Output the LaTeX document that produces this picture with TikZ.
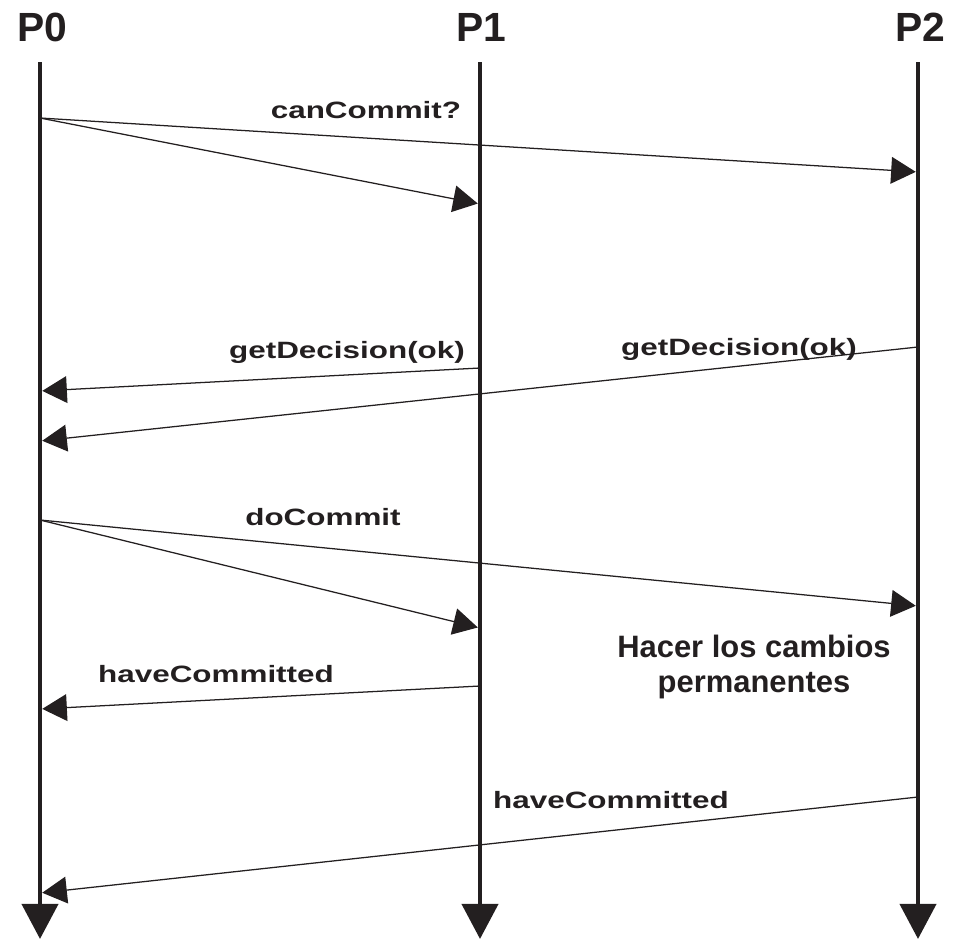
\documentclass[tikz,border=0pt]{standalone}
\usepackage{fontspec}
\setsansfont{Liberation Sans}
\newfontfamily\lblfont{Liberation Sans}[FakeStretch=1.33]
\usetikzlibrary{arrows.meta}
\definecolor{ink}{HTML}{231F20}

\begin{document}
\begin{tikzpicture}[
		x=0.025cm,y=-0.025cm,
		proc/.style={
			font=\sffamily\bfseries\fontsize{29}{34}\selectfont,
			text=ink,
			anchor=base,
			inner sep=0pt
		},
		lifeline/.style={
			-{Triangle[length=25pt,width=25.5pt]},
			draw=ink,
			line width=3.5pt
		},
		msg/.style={
			-{Triangle[length=17.5pt,width=19pt]},
			draw=ink,
			line width=0.9pt,
			shorten >=1.6pt
		},
		msglabel/.style={
			font=\lblfont\bfseries\fontsize{16.8}{20}\selectfont,
			text=ink,
			anchor=base,
			inner sep=0pt
		},
		remark/.style={
			font=\sffamily\bfseries\fontsize{22}{24.8}\selectfont,
			text=ink,
			align=center,
			anchor=base,
			inner sep=0pt
		}
	]
		\useasboundingbox (0,0) rectangle (959,941);

		\node[proc] (t0) at (42,41) {P0};
		\node[proc] (t1) at (481,41) {P1};
		\node[proc] (t2) at (920,41) {P2};

		\foreach \p/\x in {0/40,1/480,2/918} {
			\coordinate (top\p) at (\x,62);
			\coordinate (bot\p) at (\x,939);
			\draw[lifeline] (top\p) -- (bot\p);
		}

		\coordinate (cc0) at (40,118);
		\coordinate (cc1) at (480,204);
		\coordinate (cc2) at (918,172);
		\coordinate (gd1) at (480,368);
		\coordinate (gd1e) at (40,391);
		\coordinate (gd2) at (918,347);
		\coordinate (gd2e) at (40,441);
		\coordinate (dc0) at (40,520);
		\coordinate (dc1) at (480,628);
		\coordinate (dc2) at (918,606);
		\coordinate (hc1) at (480,686);
		\coordinate (hc1e) at (40,709);
		\coordinate (hc2) at (918,797);
		\coordinate (hc2e) at (40,893);

		\foreach \a/\b in {cc0/cc1,cc0/cc2,gd1/gd1e,gd2/gd2e,dc0/dc1,dc0/dc2,hc1/hc1e,hc2/hc2e}
			\draw[msg] (\a) -- (\b);

		\node[msglabel] (lcc) at (366,118) {canCommit?};
		\node[msglabel] (lgd1) at (347,358) {getDecision(ok)};
		\node[msglabel] (lgd2) at (739,355) {getDecision(ok)};
		\node[msglabel] (ldc) at (323,525) {doCommit};
		\node[msglabel] (lhc1) at (216,682) {haveCommitted};
		\node[msglabel] (lhc2) at (611,808) {haveCommitted};

		\node[remark] (perm) at (754,692) {Hacer los cambios\\permanentes};
	\end{tikzpicture}
\end{document}
